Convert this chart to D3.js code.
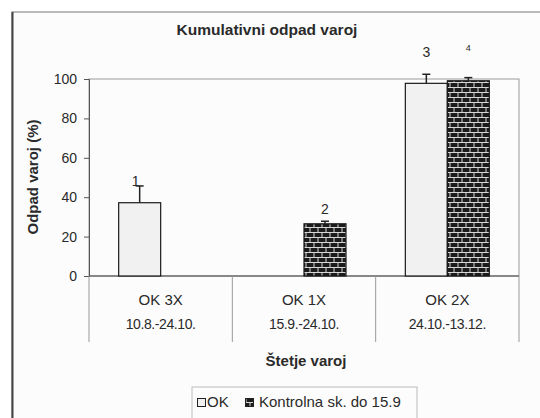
<!DOCTYPE html>
<html><head><meta charset="utf-8">
<script src="https://cdn.jsdelivr.net/npm/d3@7/dist/d3.min.js"></script>
<style>body{margin:0;background:#fff}svg{display:block}text{font-family:"Liberation Sans",Arial,sans-serif;fill:#2a2a2a}</style>
</head><body><svg id="c" width="540" height="418"></svg>
<script>
const categories = ["OK 3X", "OK 1X", "OK 2X"];
const periods = ["10.8.-24.10.", "15.9.-24.10.", "24.10.-13.12."];
const seriesNames = ["OK", "Kontrolna sk. do 15.9"];
const okValues = [37.2, null, 97.8];
const okErrors = [8.5, null, 4.6];
const ctrlValues = [null, 26.5, 99.1];
const ctrlErrors = [null, 1.3, 1.6];
const okLabels = ["1", null, "3"];
const ctrlLabels = [null, "2", "4"];
const okLabelAt = [45.7, null, 111];
const ctrlLabelAt = [null, 31.5, 114];
const yTicks = [0, 20, 40, 60, 80, 100];

const svg = d3.select("#c");
const defs = svg.append("defs");
const pat = defs.append("pattern").attr("id","brick").attr("patternUnits","userSpaceOnUse")
  .attr("width",8).attr("height",10);
pat.append("rect").attr("width",8).attr("height",10).attr("fill","#1c1c1c");
const mortar = "#d8d8d8";
[[0,2.5,8,2.5],[0,7.5,8,7.5],[2,2.5,2,7.5],[6,7.5,6,10],[6,0,6,2.5]].forEach(l=>{
  pat.append("line").attr("x1",l[0]).attr("y1",l[1]).attr("x2",l[2]).attr("y2",l[3])
    .attr("stroke",mortar).attr("stroke-width",1);
});

// outer frame
svg.append("rect").attr("x",12).attr("y",12).attr("width",540).attr("height",420)
  .attr("fill","#fcfcfc").attr("stroke","#777").attr("stroke-width",1);
svg.append("line").attr("x1",12.5).attr("x2",12.5).attr("y1",12).attr("y2",418).attr("stroke","#444").attr("stroke-width",2);

const pL = 89, pR = 519, pT = 79, pB = 276;
const x = d3.scaleBand().domain(categories).range([pL, pR]);
const y = d3.scaleLinear().domain([0, 100]).range([pB, pT]);
const barW = x.bandwidth() * 0.293;
function barX(i, s){ return x(categories[i]) + x.bandwidth()/2 + (s===0 ? -barW : 0); }

// plot frame
svg.append("rect").attr("x",pL).attr("y",pT).attr("width",pR-pL).attr("height",pB-pT)
  .attr("fill","none").attr("stroke","#999").attr("stroke-width",1);

// y axis
const yAxis = svg.append("g").attr("transform",`translate(${pL},0)`)
  .call(d3.axisLeft(y).tickValues(yTicks).tickSize(5).tickPadding(7));
yAxis.select(".domain").attr("stroke","#555");
yAxis.selectAll(".tick line").attr("stroke","#555");
yAxis.selectAll("text").style("font-size","14px").attr("fill","#2a2a2a");

// x axis table
svg.append("line").attr("x1",pL).attr("x2",pR).attr("y1",pB).attr("y2",pB).attr("stroke","#444");
const bounds = categories.map(c=>x(c)).concat([pR]);
bounds.forEach(b=>{
  svg.append("line").attr("x1",b).attr("x2",b).attr("y1",pB).attr("y2",342).attr("stroke","#999");
});
svg.selectAll(".cat").data(categories).enter().append("text")
  .attr("x",d=>x(d)+x.bandwidth()/2).attr("y",305).attr("text-anchor","middle")
  .style("font-size","15px").text(d=>d);
svg.selectAll(".per").data(periods).enter().append("text")
  .attr("x",(d,i)=>x(categories[i])+x.bandwidth()/2).attr("y",329).attr("text-anchor","middle")
  .style("font-size","14px").style("letter-spacing","-0.4px").text(d=>d);

// bars
const series = [
  {v:okValues,e:okErrors,l:okLabels,la:okLabelAt,fill:"#f1f1f1"},
  {v:ctrlValues,e:ctrlErrors,l:ctrlLabels,la:ctrlLabelAt,fill:"url(#brick)"}];
series.forEach((s,si)=>{
  s.v.forEach((v,i)=>{
    if(v==null) return;
    const bx = barX(i,si);
    svg.append("rect").attr("x",bx).attr("y",y(v)).attr("width",barW).attr("height",y(0)-y(v))
      .attr("fill",s.fill).attr("stroke","#1a1a1a").attr("stroke-width",1.2);
    const cx = bx+barW/2, ey = y(v+s.e[i]);
    svg.append("line").attr("x1",cx).attr("x2",cx).attr("y1",y(v)).attr("y2",ey).attr("stroke","#222").attr("stroke-width",1.5);
    svg.append("line").attr("x1",cx-4).attr("x2",cx+4).attr("y1",ey).attr("y2",ey).attr("stroke","#222").attr("stroke-width",1.5);
    const lab = s.l[i];
    if(lab){
      svg.append("text").attr("x",cx - (lab==="1"?4:0)).attr("y", y(s.la[i]))
        .attr("text-anchor","middle").style("font-size", lab==="4"?"9px":"14px").text(lab);
    }
  });
});

// titles
svg.append("text").attr("x",267).attr("y",35).attr("text-anchor","middle")
  .style("font-size","15.5px").style("font-weight","bold").text("Kumulativni odpad varoj");
svg.append("text").attr("transform","translate(38,177) rotate(-90)").attr("text-anchor","middle")
  .style("font-size","15px").style("font-weight","bold").text("Odpad varoj (%)");
svg.append("text").attr("x",306).attr("y",366).attr("text-anchor","middle")
  .style("font-size","15px").style("font-weight","bold").text("Štetje varoj");

// legend
const lg = svg.append("g");
lg.append("rect").attr("x",192).attr("y",387).attr("width",225).attr("height",40)
  .attr("fill","#fcfcfc").attr("stroke","#bbb");
lg.append("rect").attr("x",197.5).attr("y",398.5).attr("width",8).attr("height",8).attr("fill","#f1f1f1").attr("stroke","#222");
lg.append("text").attr("x",207).attr("y",407).style("font-size","15px").text(seriesNames[0]);
lg.append("rect").attr("x",245.5).attr("y",398.5).attr("width",8).attr("height",8).attr("fill","url(#brick)").attr("stroke","#222");
lg.append("text").attr("x",259).attr("y",407).style("font-size","15px").text(seriesNames[1]);
</script></body></html>
